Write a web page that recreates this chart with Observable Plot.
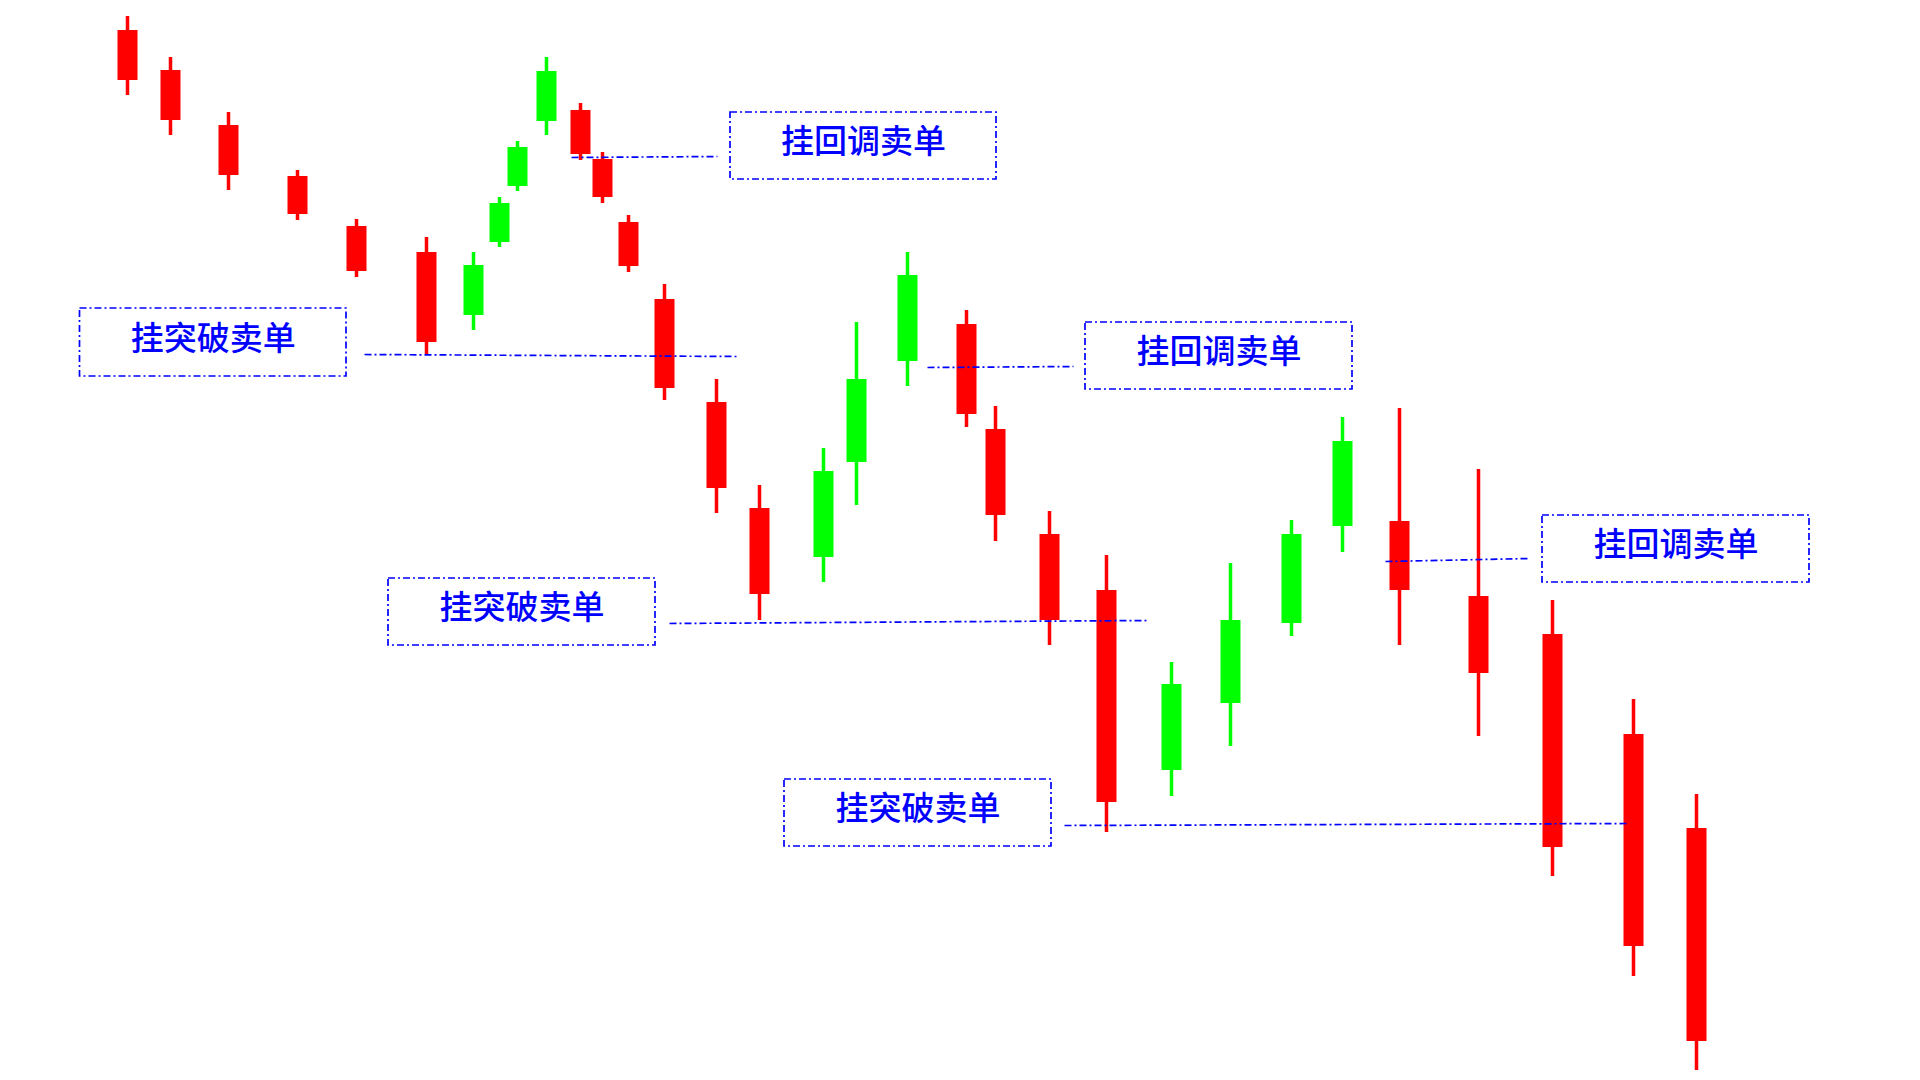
<!DOCTYPE html>
<html>
<head>
<meta charset="utf-8">
<script src="https://cdn.jsdelivr.net/npm/d3@7"></script>
<script src="https://cdn.jsdelivr.net/npm/@observablehq/plot@0.6"></script>
<style>
  html, body { margin: 0; padding: 0; background: #ffffff; }
  #chart svg { display: block; }
</style>
</head>
<body>
<div id="chart"></div>
<script>
// Bar time positions (irregular spacing, arbitrary time units)
const times = [12.7, 17.0, 22.8, 29.7, 35.6, 42.6, 47.3, 49.9, 51.7, 54.6, 58.0, 60.2, 62.8, 66.4,
               71.6, 75.9, 82.3, 85.6, 90.7, 96.6, 99.5, 104.9, 110.6, 117.1, 123.0, 129.1, 134.2,
               139.9, 147.8, 155.2, 163.3, 169.6];
const opens  = [105.0, 101.0, 95.5, 90.4, 85.4, 82.8, 76.5, 83.8, 89.4, 95.9, 97.0, 92.1, 85.8, 78.1,
                67.8, 57.2, 52.3, 61.8, 71.9, 75.6, 65.1, 54.6, 49.0, 31.0, 37.7, 45.7, 55.4,
                55.9, 48.4, 44.6, 34.6, 25.2];
const highs  = [106.4, 102.3, 96.8, 91.0, 86.1, 84.3, 82.8, 88.3, 93.9, 102.3, 97.7, 92.8, 86.5, 79.6,
                70.1, 59.5, 63.2, 75.8, 82.8, 77.0, 67.4, 56.9, 52.5, 41.8, 51.7, 56.0, 66.3,
                67.2, 61.1, 48.0, 38.1, 28.6];
const lows   = [98.5, 94.5, 89.0, 86.0, 80.3, 72.6, 75.0, 83.3, 88.9, 94.5, 92.0, 87.7, 80.8, 68.0,
                56.7, 46.0, 49.8, 57.5, 69.4, 65.3, 53.9, 43.5, 24.8, 28.4, 33.4, 44.4, 52.8,
                43.5, 34.4, 20.4, 10.4, 1.0];
const closes = [100.0, 96.0, 90.5, 86.6, 80.9, 73.8, 81.5, 87.7, 93.3, 100.9, 92.6, 88.3, 81.4, 69.2,
                59.2, 48.6, 60.9, 70.1, 80.5, 66.6, 56.5, 46.0, 27.8, 39.6, 46.0, 54.6, 63.9,
                49.0, 40.7, 23.3, 13.4, 3.9];

// Pending sell-order levels: time span and price at each end
const orderStart = [36.4, 57.1, 66.9, 92.7, 106.4, 138.5];
const orderEnd   = [73.6, 71.7, 114.8, 107.3, 162.9, 153.0];
const orderPriceStart = [72.6, 92.3, 45.7, 71.3, 25.5, 51.9];
const orderPriceEnd   = [72.4, 92.4, 46.0, 71.4, 25.7, 52.2];

// Note boxes: label, time span, price span
const noteLabels = ["挂突破卖单", "挂回调卖单", "挂回调卖单", "挂突破卖单", "挂突破卖单", "挂回调卖单"];
const noteT1 = [7.95, 73.0, 108.5, 38.8, 78.4, 154.2];
const noteT2 = [34.6, 99.6, 135.2, 65.5, 105.1, 180.9];
const noteTop = [77.2, 96.8, 75.8, 50.2, 30.1, 56.5];
const noteBottom = [70.4, 90.1, 69.1, 43.5, 23.4, 49.8];

const candles = times.map((t, i) => ({
  t, open: opens[i], high: highs[i], low: lows[i], close: closes[i]
}));
const orders = orderStart.map((t1, i) => ({
  t1, t2: orderEnd[i], p1: orderPriceStart[i], p2: orderPriceEnd[i]
}));
const notes = noteLabels.map((label, i) => ({
  label, t1: noteT1[i], t2: noteT2[i], top: noteTop[i], bottom: noteBottom[i]
}));

const UP = "#00ff00", DOWN = "#ff0000", INK = "#0000ff";
const dashDot = "7,3,2,3";
const colorOf = d => (d.close >= d.open ? UP : DOWN);

const chart = Plot.plot({
  width: 1920,
  height: 1080,
  margin: 0,
  x: {domain: [0, 192], axis: null},
  y: {domain: [0, 108], axis: null},
  style: {background: "#ffffff"},
  marks: [
    // wicks
    Plot.ruleX(candles, {x: "t", y1: "low", y2: "high", stroke: colorOf, strokeWidth: 3.5}),
    // bodies
    Plot.ruleX(candles, {x: "t", y1: "open", y2: "close", stroke: colorOf, strokeWidth: 20, strokeLinecap: "butt"}),
    // pending order levels
    Plot.link(orders, {x1: "t1", y1: "p1", x2: "t2", y2: "p2", stroke: INK, strokeWidth: 1.7, strokeDasharray: dashDot}),
    // note boxes
    Plot.rect(notes, {x1: "t1", x2: "t2", y1: "bottom", y2: "top", fill: "none", stroke: INK, strokeWidth: 1.7, strokeDasharray: dashDot}),
    Plot.text(notes, {
      x: d => (d.t1 + d.t2) / 2,
      y: d => (d.top + d.bottom) / 2 + 0.35,
      text: "label",
      fill: INK,
      fontSize: 33,
      fontFamily: "'Noto Sans CJK SC', sans-serif",
      fontWeight: 500
    })
  ]
});

document.getElementById("chart").appendChild(chart);
</script>
</body>
</html>
